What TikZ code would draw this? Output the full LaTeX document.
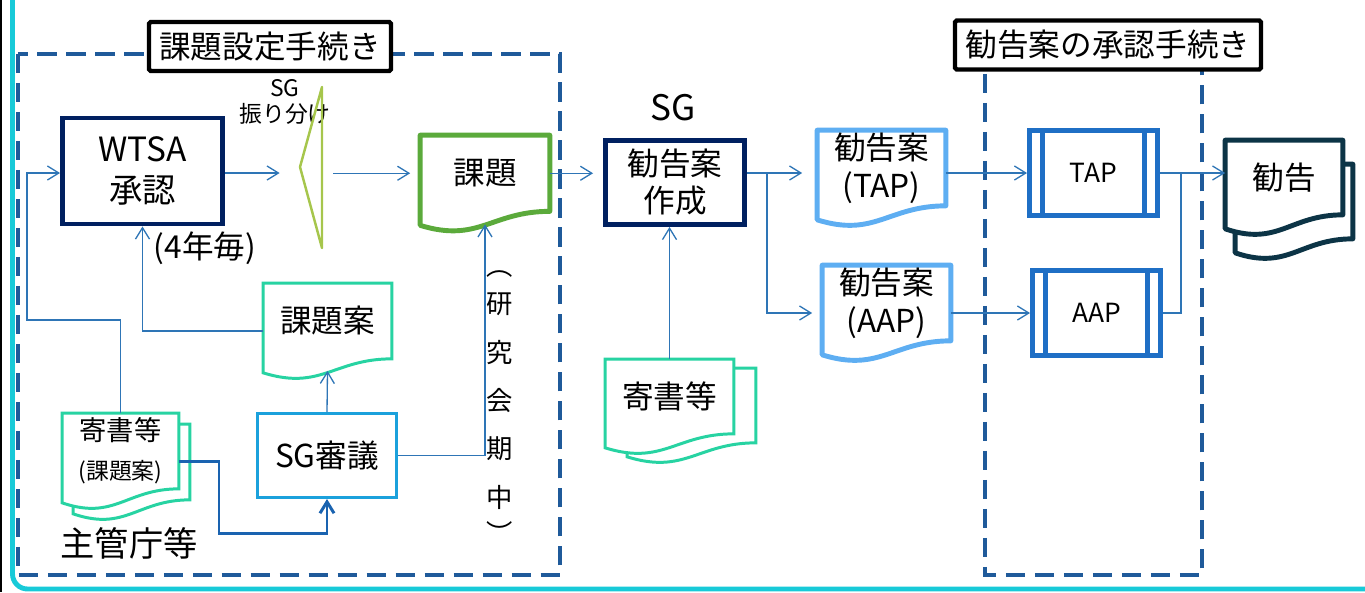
\documentclass[tikz,border=0pt]{standalone}
\usepackage{fontspec}
\setmainfont{Noto Sans CJK JP}
\usetikzlibrary{arrows.meta,calc}

\definecolor{navy}{HTML}{002060}
\definecolor{flowblue}{HTML}{2E75B6}
\definecolor{flowdark}{HTML}{1A63B0}
\definecolor{kadaigreen}{HTML}{5BAA3B}
\definecolor{splitgreen}{HTML}{A6C64C}
\definecolor{mint}{HTML}{27D3A2}
\definecolor{sky}{HTML}{1BA1DC}
\definecolor{lightblue}{HTML}{5EAEF2}
\definecolor{procblue}{HTML}{1F6FC5}
\definecolor{deepteal}{HTML}{0C3446}
\definecolor{dashblue}{HTML}{1F5A9A}
\definecolor{framecyan}{HTML}{18CAD8}

\pgfdeclarelayer{background}
\pgfsetlayers{background,main}

% document outline round a node: flat top, wavy bottom
\newcommand{\docshape}[2]{%
  \draw[#1] (#2.north west) -- (#2.north east) -- (#2.south east)
    .. controls ($(#2.south east)!0.45!(#2.south west)$) and ($(#2.south west)!0.45!(#2.south east)+(0,32)$)
    .. ($(#2.south west)+(0,14)$) -- cycle;}

\begin{document}
\begin{tikzpicture}[x=0.02cm, y=-0.02cm,
    every node/.style={font=\fontsize{18}{22}\selectfont, align=center, inner sep=0pt},
    flow/.style={draw=flowblue, line width=0.75pt, -{Straight Barb[length=6.5pt,width=8pt]}},
    flowthick/.style={draw=flowdark, line width=1.7pt, -{Straight Barb[length=6.5pt,width=8pt]}},
    title/.style={draw, line width=2.5pt, rounded corners=1pt, fill=white, minimum height=0.98cm},
    dashbox/.style={draw=dashblue, line width=1.8pt, dash pattern=on 11pt off 5.5pt},
    doc/.style={minimum width=2.56cm, minimum height=1.5cm},
    proc/.style={draw=procblue, line width=2.8pt, minimum width=2.56cm, minimum height=1.7cm}]

    \useasboundingbox (0,0) rectangle (1365,592);

    % frame at the left and bottom
    \draw[black, line width=0.8pt] (1,0) -- (1,592);
    \draw[framecyan, line width=2.8pt, rounded corners=0.3cm] (12.5,-10) |- (1380,589);

    % the two procedure areas
    \draw[dashbox] (18,54) rectangle (560,575);
    \draw[dashbox] (985,45) rectangle (1202,575);
    \node[title, minimum width=4.84cm] (title1) at (270,46.5) {課題設定手続き};
    \node[title, minimum width=6.12cm] (title2) at (1108,45) {勧告案の承認手続き};

    % boxes and documents
    \node[draw=navy, line width=2.8pt, minimum width=3.2cm, minimum height=2.12cm,
          font=\fontsize{19}{23}\selectfont] (wtsa) at (142.5,171) {WTSA\\承認};
    \node (every4) at (205,248) {(4年毎)};
    \node[font=\fontsize{13}{15}\selectfont] (splitlabel) at (285,102) {SG\\振り分け};
    \node[minimum width=0.86cm, minimum height=3.22cm] (split) at (311.5,167.5) {};
    \node[doc, minimum width=2.58cm, minimum height=1.51cm] (kadai) at (485,173.25) {課題};
    \node[doc] (kadaian) at (327.5,321) {課題案};
    \node[draw=sky, line width=1.7pt, minimum width=2.78cm, minimum height=1.68cm] (shingi) at (327,455.5) {SG審議};
    \node[doc, minimum width=2.32cm] (kishoLb) at (131.5,462) {};
    \node[doc, minimum width=2.32cm] (kishoL) at (120.5,451) {\fontsize{15.5}{17}\selectfont 寄書等\\\fontsize{13}{16}\selectfont (課題案)};
    \node[font=\fontsize{19.5}{22}\selectfont] (shukan) at (129,543) {主管庁等};
    \node[font=\fontsize{15}{27.5}\selectfont] (kikan) at (500,407) {︵\\[-5.7pt]研\\究\\会\\期\\中\\[-7pt]︶};

    \node[font=\fontsize{20}{24}\selectfont] (sglabel) at (673,108) {SG};
    \node[draw=navy, line width=2.8pt, minimum width=2.78cm, minimum height=1.68cm,
          font=\fontsize{18}{21}\selectfont] (kansaku) at (675,182.5) {勧告案\\作成};
    \node[doc, minimum height=1.48cm] (kishob) at (691.5,405.5) {};
    \node[doc, minimum height=1.48cm] (kisho) at (669.5,396.5) {寄書等};

    \node[doc, font=\fontsize{18}{21.5}\selectfont] (tapdoc) at (881.5,168) {勧告案\\(TAP)};
    \node[doc, font=\fontsize{18}{21.5}\selectfont] (aapdoc) at (886.5,303) {勧告案\\(AAP)};
    \node[proc, font=\fontsize{15}{18}\selectfont] (tapbox) at (1093.5,173) {TAP};
    \node[proc, font=\fontsize{15}{18}\selectfont] (aapbox) at (1096.5,313) {AAP};
    \node[doc, minimum width=2.34cm, minimum height=1.48cm] (kankokub) at (1294,201.5) {};
    \node[doc, minimum width=2.34cm, minimum height=1.48cm] (kankoku) at (1284,177.5) {勧告};

    % outlines behind the texts
    \begin{pgfonlayer}{background}
        \docshape{draw=kadaigreen, line width=2.8pt, line join=round}{kadai}
        \docshape{draw=mint, line width=1.7pt}{kadaian}
        \docshape{draw=mint, line width=1.7pt, fill=white}{kishoLb}
        \docshape{draw=mint, line width=1.7pt, fill=white}{kishoL}
        \docshape{draw=mint, line width=1.7pt, fill=white}{kishob}
        \docshape{draw=mint, line width=1.7pt, fill=white}{kisho}
        \docshape{draw=lightblue, line width=2.8pt, line join=round}{tapdoc}
        \docshape{draw=lightblue, line width=2.8pt, line join=round}{aapdoc}
        \docshape{draw=deepteal, line width=2.8pt, line join=round, fill=white}{kankokub}
        \docshape{draw=deepteal, line width=2.8pt, line join=round, fill=white}{kankoku}
    \end{pgfonlayer}
    \draw[splitgreen, line width=1.4pt, line join=round] (322,87) -- (300,167) -- (322,248) -- cycle;
    \foreach \pname in {tapbox,aapbox} {
        \draw[procblue, line width=2.8pt] ([xshift=0.31cm]\pname.north west) -- ([xshift=0.31cm]\pname.south west);
        \draw[procblue, line width=2.8pt] ([xshift=-0.31cm]\pname.north east) -- ([xshift=-0.31cm]\pname.south east);
    }

    % connectors
    \coordinate (fb) at (27,320);
    \coordinate (low) at (219,533);
    \coordinate (mid) at (0,173);
    \coordinate (fork) at (767,173);
    \coordinate (join) at (1181,173);
    \draw[flow, shorten >=0.2cm] (wtsa.east |- mid) -- (split.west |- mid);
    \draw[flow, shorten >=0.2cm] (split.east |- kadai.west) -- (kadai.west);
    \draw[flow] (kishoL.north) |- (fb) |- (wtsa.west |- mid);
    \draw[flow] ([yshift=-0.2cm]kadaian.west) -| (wtsa.south);
    \draw[flow] (shingi.north) -- ([yshift=-0.24cm]kadaian.south);
    \draw[flowthick] ([yshift=-0.2cm]kishoL.east) -| (low) -| (shingi.south);
    \draw[flow] (shingi.east) -| ([yshift=-0.26cm]kadai.south);
    \draw[flow, shorten >=0.2cm] (kadai.east) -- (kadai.east -| kansaku.west);
    \draw[flow] (kisho.north) -- (kisho.north |- kansaku.south);
    \draw[flow, shorten >=0.3cm] (kansaku.east |- mid) -- (tapdoc.west |- mid);
    \draw[flow, shorten >=0.2cm] (fork) |- (aapdoc.west |- aapbox.west);
    \draw[flow] (tapdoc.east |- tapbox.west) -- (tapbox.west);
    \draw[flow] (aapdoc.east |- aapbox.west) -- (aapbox.west);
    \draw[flow] (tapbox.east) -- (join) -- (kankoku.west |- join);
    \draw[draw=flowblue, line width=0.75pt] (aapbox.east) -| (join);
\end{tikzpicture}
\end{document}
